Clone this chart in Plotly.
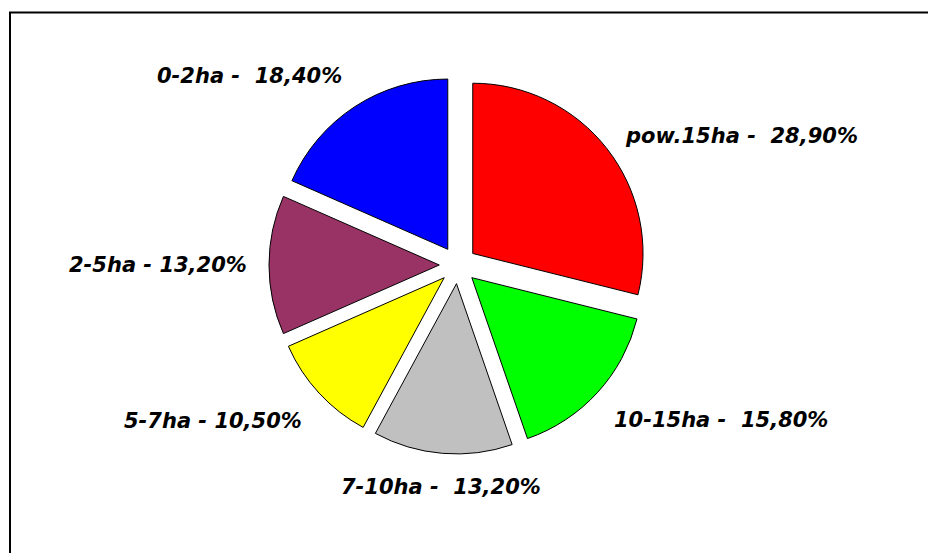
import math
import plotly.graph_objects as go

categories = ["pow.15ha", "10-15ha", "7-10ha", "5-7ha", "2-5ha", "0-2ha"]
values = [28.9, 15.8, 13.2, 10.5, 13.2, 18.4]
label_texts = [
    "pow.15ha -\u00a0 28,90%",
    "10-15ha -\u00a0 15,80%",
    "7-10ha -\u00a0 13,20%",
    "5-7ha - 10,50%",
    "2-5ha - 13,20%",
    "0-2ha -\u00a0 18,40%",
]
colors = ["#FF0000", "#00FF00", "#C0C0C0", "#FFFF00", "#993366", "#0000FF"]

W, H = 928, 553
cx, cy, half = 458, 265, 189
label_r = 209

fig = go.Figure(go.Pie(
    labels=categories,
    values=values,
    textinfo="none",
    sort=False,
    direction="clockwise",
    rotation=0,
    pull=[0.11] * 6,
    marker=dict(colors=colors, line=dict(color="black", width=1)),
    domain=dict(x=[(cx - half) / W, (cx + half) / W],
                y=[1 - (cy + half) / H, 1 - (cy - half) / H]),
    showlegend=False,
    hoverinfo="skip",
))

# labels placed along each slice's bisector (angles derived from the values)
total = sum(values)
cum = 0.0
annotations = []
for v, t in zip(values, label_texts):
    theta = math.radians(360 * (cum + v / 2) / total)
    cum += v
    s, c = math.sin(theta), math.cos(theta)
    px = cx + label_r * s
    py = cy - label_r * c
    xa = "left" if s > 0.3 else ("right" if s < -0.3 else "center")
    ya = "bottom" if c > 0.7 else ("top" if c < -0.3 else "middle")
    annotations.append(dict(
        x=px / W, y=1 - py / H, xref="paper", yref="paper",
        text=t, showarrow=False, xanchor=xa, yanchor=ya,
        font=dict(family="DejaVu Sans, Arial, sans-serif", size=21,
                  color="black", weight="bold", style="italic"),
    ))

fig.update_layout(
    width=W, height=H,
    margin=dict(l=0, r=0, t=0, b=0),
    paper_bgcolor="white",
    plot_bgcolor="white",
    annotations=annotations,
    shapes=[dict(type="rect", xref="paper", yref="paper",
                 x0=10 / W, x1=1.05, y0=-0.05, y1=1 - 12.5 / H,
                 line=dict(color="black", width=2), layer="below")],
)

fig.write_html(
    "out.html",
    config={"displayModeBar": False},
    post_script="document.body.style.margin='0';document.body.style.overflow='hidden';",
)
